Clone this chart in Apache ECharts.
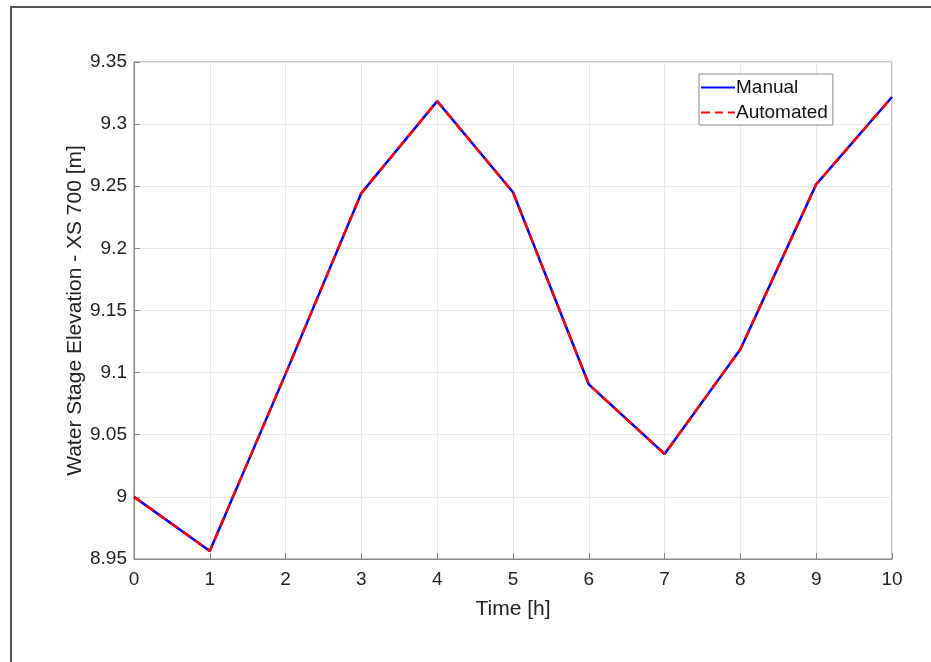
<!DOCTYPE html>
<html>
<head>
<meta charset="utf-8">
<script src="https://cdn.jsdelivr.net/npm/echarts@6/dist/echarts.min.js"></script>
<style>
  html, body { margin: 0; padding: 0; background: #fff; }
  #chart { width: 931px; height: 662px; }
</style>
</head>
<body>
<div id="chart"></div>
<script>
// 时间轴 [h]
var timeData = [0, 1, 2, 3, 4, 5, 6, 7, 8, 9, 10];
// 水位 XS 700
var manualData = [9.0, 8.9565, 9.099, 9.2445, 9.3185, 9.2452, 9.0906, 9.0345, 9.1188, 9.2515, 9.3218];
var automatedData = [9.0, 8.9565, 9.099, 9.2445, 9.3185, 9.2452, 9.0906, 9.0345, 9.1188, 9.2515, 9.3218];
var seriesNames = ["Manual", "Automated"];

var chart = echarts.init(document.getElementById("chart"));
var fontFam = "Liberation Sans, Arial, sans-serif";

function pairs(vals) {
  return vals.map(function (v, i) { return [timeData[i], v]; });
}

var option = {
  animation: false,
  backgroundColor: "#fff",
  graphic: [
    {
      type: "rect",
      shape: { x: 11, y: 7, width: 940, height: 680 },
      style: { fill: "none", stroke: "#555", lineWidth: 2 },
      silent: true
    }
  ],
  grid: {
    left: 134,
    right: 39,
    top: 62,
    bottom: 103,
    show: true,
    borderColor: "#888",
    borderWidth: 1
  },
  legend: {
    orient: "vertical",
    left: 699,
    top: 74,
    itemWidth: 34,
    itemHeight: 12,
    itemGap: 6,
    padding: [4, 5, 3, 2],
    borderColor: "#888",
    borderWidth: 1,
    backgroundColor: "#fff",
    textStyle: { fontFamily: fontFam, fontSize: 19, color: "#111", padding: [0, 0, 0, -4] },
    data: [
      { name: seriesNames[0], icon: "path://M0,5L34,5L34,7L0,7Z" },
      { name: seriesNames[1], icon: "path://M0,5L9,5L9,7L0,7ZM14,5L22,5L22,7L14,7ZM27,5L34,5L34,7L27,7Z" }
    ]
  },
  xAxis: {
    type: "value",
    min: 0,
    max: 10,
    interval: 1,
    name: "Time [h]",
    nameLocation: "middle",
    nameGap: 40,
    nameMoveOverlap: false,
    nameTextStyle: { fontFamily: fontFam, fontSize: 21, color: "#222" },
    axisLine: { show: true, lineStyle: { color: "#888" } },
    axisTick: { show: true, inside: true, length: 6, lineStyle: { color: "#888" } },
    axisLabel: { fontFamily: fontFam, fontSize: 19, color: "#222", margin: 11 },
    splitLine: { show: true, lineStyle: { color: "#e8e8e8" } }
  },
  yAxis: {
    type: "value",
    min: 8.95,
    max: 9.35,
    interval: 0.05,
    name: "Water Stage Elevation - XS 700 [m]",
    nameLocation: "middle",
    nameGap: 48,
    nameMoveOverlap: false,
    nameTextStyle: { fontFamily: fontFam, fontSize: 21, color: "#222" },
    axisLine: { show: true, lineStyle: { color: "#888" } },
    axisTick: { show: true, inside: true, length: 6, lineStyle: { color: "#888" } },
    axisLabel: {
      fontFamily: fontFam,
      fontSize: 19,
      color: "#222",
      margin: 7,
      formatter: function (v) { return String(parseFloat(v.toFixed(2))); }
    },
    splitLine: { show: true, lineStyle: { color: "#e8e8e8" } }
  },
  series: [
    {
      name: seriesNames[0],
      type: "line",
      data: pairs(manualData),
      symbol: "none",
      color: "#0000ff",
      lineStyle: { color: "#0000ff", width: 2.5 }
    },
    {
      name: seriesNames[1],
      type: "line",
      data: pairs(automatedData),
      symbol: "none",
      color: "#ff0000",
      lineStyle: { color: "#ff0000", width: 2.5, type: [9, 6] }
    }
  ]
};
chart.setOption(option);
</script>
</body>
</html>
